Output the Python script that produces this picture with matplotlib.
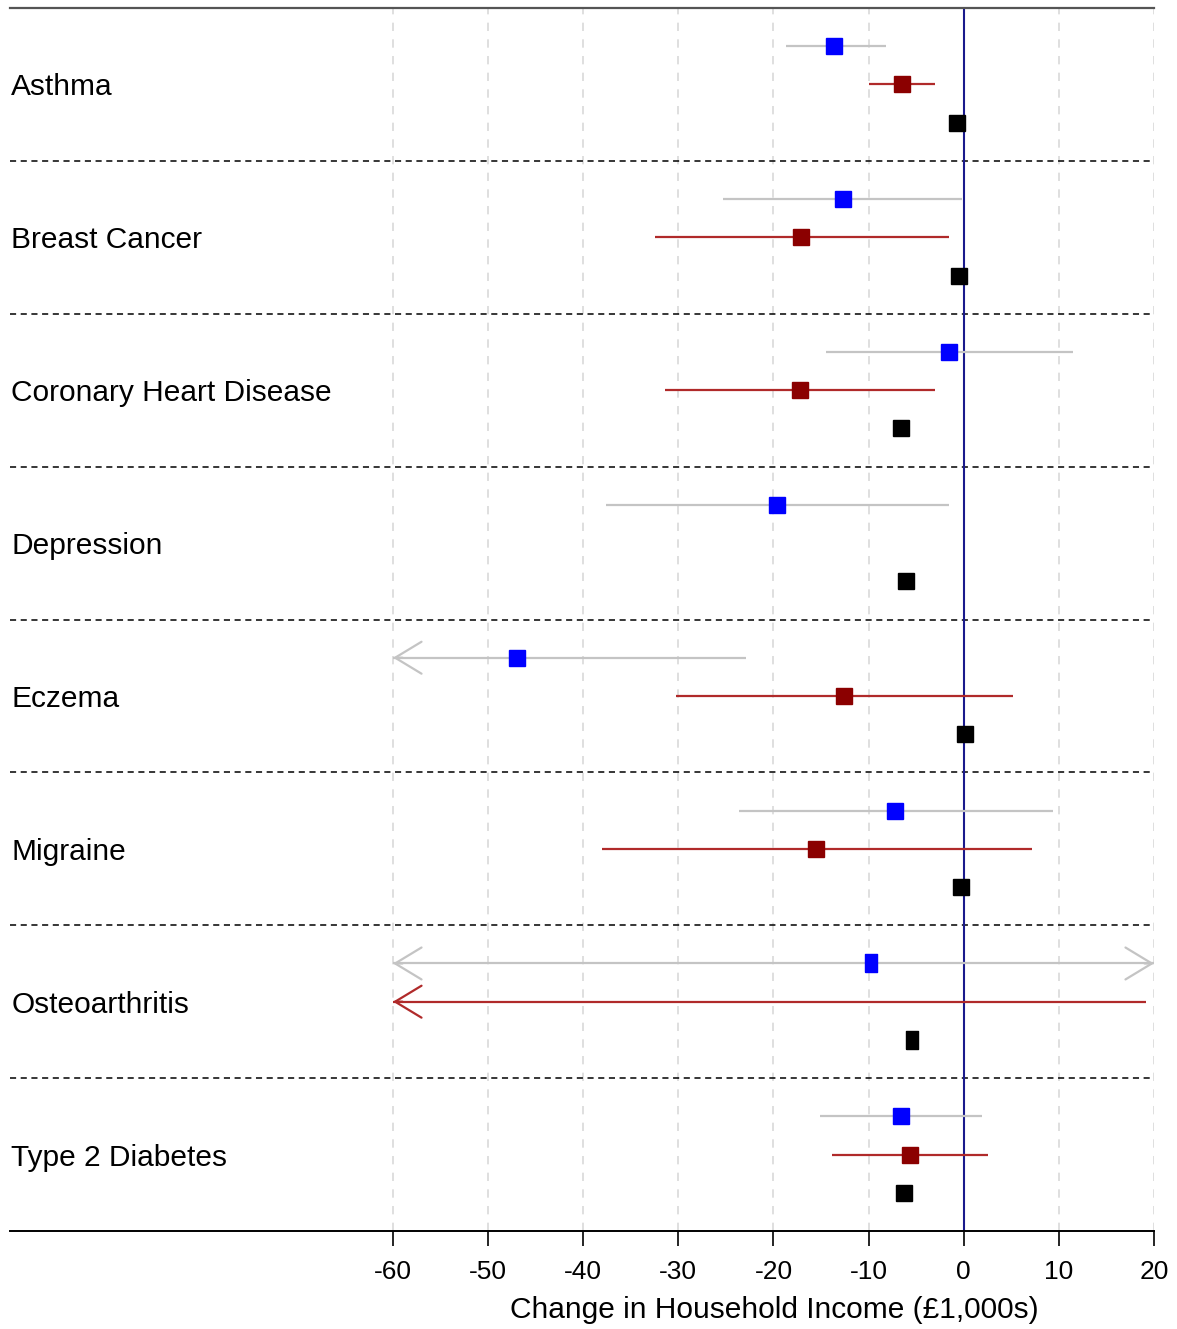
import numpy as np
import matplotlib
matplotlib.use('Agg')
import matplotlib.pyplot as plt
from matplotlib import transforms

plt.rcParams['font.family'] = ['Liberation Sans', 'DejaVu Sans']

# data (£1,000s)
conditions = ['Asthma', 'Breast Cancer', 'Coronary Heart Disease', 'Depression',
              'Eczema', 'Migraine', 'Osteoarthritis', 'Type 2 Diabetes']

blue_est = [-13.6, -12.7, -1.6, -19.6, -47.0, -7.2, -9.8, -6.6]
blue_lo = [-18.7, -25.3, -14.5, -37.6, -72.0, -23.6, -85.0, -15.1]
blue_hi = [-8.2, -0.2, 11.5, -1.5, -22.9, 9.4, 45.0, 1.9]

red_est = [-6.5, -17.1, -17.2, np.nan, -12.6, -15.5, -75.0, -5.7]
red_lo = [-10.0, -32.5, -31.4, np.nan, -30.3, -38.0, -150.0, -13.8]
red_hi = [-3.0, -1.6, -3.0, np.nan, 5.2, 7.2, 19.2, 2.6]

black_est = [-0.7, -0.5, -6.6, -6.1, 0.1, -0.3, -5.4, -6.3]

xticks = [-60, -50, -40, -30, -20, -10, 0, 10, 20]
xmin, xmax = -60, 20

# the osteoarthritis boxes are drawn narrower in the original
narrow = [(-0.32, -0.5), (0.32, -0.5), (0.32, 0.5), (-0.32, 0.5), (-0.32, -0.5)]

fig = plt.figure(figsize=(11.77, 13.29), dpi=100)
ax = fig.add_axes([10 / 1177, 1 - 1231 / 1329, 1144 / 1177, 1223 / 1329])
ax.set_xlim(-100.26, 20)
n = len(conditions)
ax.set_ylim(4 * n, 0)

# grid
for t in xticks:
    ax.axvline(t, color='#d9d9d9', lw=1.2, ls=(0, (5, 5)), zorder=0)
for k in range(1, n):
    ax.axhline(4 * k, color='black', lw=1.1, ls=(0, (4, 3)), zorder=1)
ax.axvline(0, color='#1a1a8c', lw=1.5, zorder=2)


def ci_line(y, lo, hi, color, lw):
    if np.isnan(lo):
        return
    a, b = max(lo, xmin), min(hi, xmax)
    ax.plot([a, b], [y, y], color=color, lw=lw, zorder=3, solid_capstyle='butt')
    for end, tip, other in [(lo < xmin, a, a + 1), (hi > xmax, b, b - 1)]:
        if end:
            ax.annotate('', xy=(tip, y), xytext=(other, y),
                        arrowprops=dict(arrowstyle='->,head_length=19,head_width=11.5',
                                        color=color, lw=lw, mutation_scale=1,
                                        shrinkA=0, shrinkB=0), zorder=3,
                        annotation_clip=False)


def point(y, x, color, mk='s', ms=11.5):
    if np.isnan(x) or x < xmin or x > xmax:
        return
    ax.plot([x], [y], marker=mk, ms=ms, color=color, mec=color, zorder=4)


for i in range(n):
    base = 4 * i
    mk, ms = ('s', 11.5) if conditions[i] != 'Osteoarthritis' else (narrow, 13.5)
    ci_line(base + 1, blue_lo[i], blue_hi[i], '#c4c4c4', 1.6)
    ci_line(base + 2, red_lo[i], red_hi[i], '#b02a2a', 1.6)
    point(base + 1, blue_est[i], '#0000ff', mk, ms)
    point(base + 2, red_est[i], '#8b0000', mk, ms)
    point(base + 3, black_est[i], '#000000', mk, ms)
    ax.text(0.001, base + 2, conditions[i], transform=transforms.blended_transform_factory(ax.transAxes, ax.transData),
            ha='left', va='center_baseline', fontsize=21.5)

ax.set_yticks([])
ax.set_xticks(xticks)
ax.set_xticklabels([str(t) for t in xticks])
ax.tick_params(axis='x', direction='out', length=11, width=1.2, labelsize=19, pad=10)
for s in ['left', 'right']:
    ax.spines[s].set_visible(False)
ax.spines['top'].set_color('#555555')
ax.spines['top'].set_linewidth(1.6)
ax.spines['bottom'].set_linewidth(1.4)
ax.set_xlabel('Change in Household Income (£1,000s)', fontsize=21.5)
ax.xaxis.label.set_va('center')
ax.xaxis.set_label_coords((0.5 * (508 + 1040) - 10) / 1144, -79 / 1223)

fig.savefig('out.png', dpi=100)
